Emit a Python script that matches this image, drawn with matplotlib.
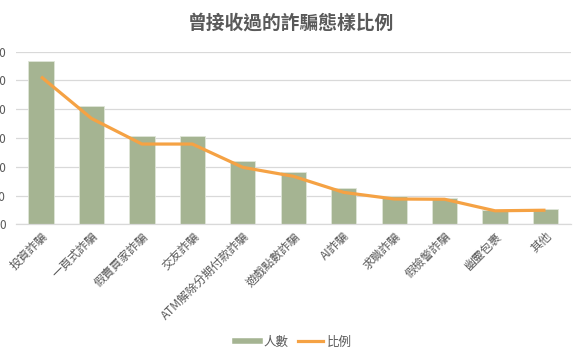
import matplotlib
matplotlib.use("Agg")
import matplotlib.pyplot as plt
from matplotlib.lines import Line2D
import numpy as np

plt.rcParams['font.family'] = ['Noto Sans CJK TC', 'DejaVu Sans']

categories = ["投資詐騙", "一頁式詐騙", "假賣買家詐騙", "交友詐騙", "ATM解除分期付款詐騙",
              "遊戲點數詐騙", "AI詐騙", "求職詐騙", "假檢警詐騙", "幽靈包裹", "其他"]
counts = [566, 410, 308, 308, 221, 181, 125, 97, 93, 49, 54]
ratios = [51.3, 36.8, 27.9, 27.9, 19.8, 16.7, 11.1, 8.8, 8.7, 4.7, 4.9]
left_ticks = [0, 100, 200, 300, 400, 500, 600]
right_ticks = [0, 10, 20, 30, 40, 50, 60]

title = "曾接收過的詐騙態樣比例"
legend_labels = ["人數", "比例"]

GRAY = "#595959"
GRID = "#d9d9d9"
GREEN = "#a5b492"
ORANGE = "#f5a244"

fig = plt.figure(figsize=(5.81, 3.60), dpi=100)
ax = fig.add_axes([0.0272, 0.3769, 0.9823 - 0.0272, 0.8564 - 0.3769])
ax2 = ax.twinx()

x = np.arange(len(categories))
ax.bar(x, counts, width=0.5, color=GREEN, edgecolor="#dfe5d8", linewidth=0.6, zorder=2)
ax.set_xlim(-0.5, len(categories) - 0.5)
ax.set_ylim(left_ticks[0], left_ticks[-1])
ax.set_yticks(left_ticks)
ax.set_yticklabels([str(t) for t in left_ticks])
ax.yaxis.grid(True, color=GRID, linewidth=0.9, zorder=0)
ax.set_axisbelow(True)
ax.tick_params(axis='both', length=0, colors=GRAY, labelsize=8.5)
ax.tick_params(axis='y', pad=7)
ax.set_xticks(x)
ax.set_xticklabels(categories, rotation=45, ha='right', va='top', rotation_mode='anchor',
                   fontsize=8.5, color=GRAY)
ax.tick_params(axis='x', pad=4)
for s in ['top', 'right', 'left']:
    ax.spines[s].set_visible(False)
ax.spines['bottom'].set_color(GRID)
ax.spines['bottom'].set_linewidth(0.9)

ax2.plot(x, ratios, color=ORANGE, linewidth=2.3, solid_capstyle='butt', zorder=3)
ax2.set_ylim(right_ticks[0], right_ticks[-1])
ax2.set_yticks(right_ticks)
ax2.set_yticklabels([f"{t}%" for t in right_ticks])
ax2.tick_params(axis='y', length=0, colors=GRAY, labelsize=8.5, pad=7)
for s in ['top', 'right', 'left', 'bottom']:
    ax2.spines[s].set_visible(False)

fig.text(0.50, 0.935, title, ha='center', va='center', fontsize=13.5,
         fontweight='bold', color=GRAY)

handles = [Line2D([0], [0], color=GREEN, linewidth=4),
           Line2D([0], [0], color=ORANGE, linewidth=2.3)]
fig.legend(handles, legend_labels, loc='center', bbox_to_anchor=(0.505, 0.05), ncol=2,
           frameon=False, fontsize=9, labelcolor=GRAY, handlelength=2.0,
           handletextpad=0.3, columnspacing=0.8)

fig.savefig("out.png", dpi=100)
